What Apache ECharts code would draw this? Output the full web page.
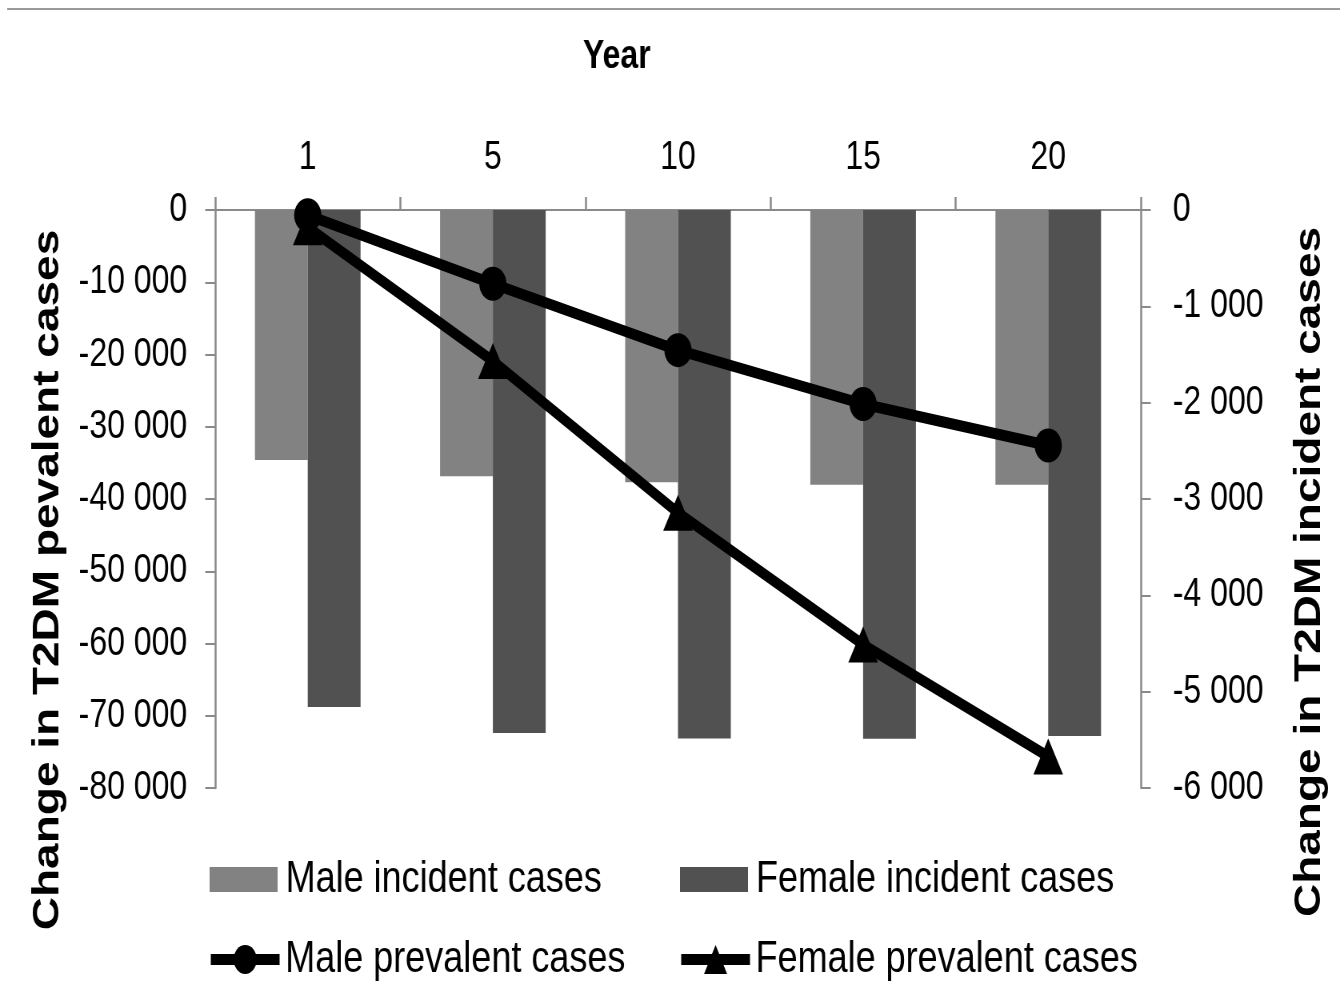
<!DOCTYPE html>
<html>
<head>
<meta charset="utf-8">
<script src="https://cdn.jsdelivr.net/npm/echarts@6/dist/echarts.min.js"></script>
<style>
html,body{margin:0;padding:0;background:#fff;overflow:hidden;width:1340px;height:983px;}
#chart{width:1675px;height:983px;transform:scaleX(0.8);transform-origin:0 0;}
</style>
</head>
<body>
<div id="chart"></div>
<script>
var years = ['1', '5', '10', '15', '20'];
var maleIncident = [-2595, -2765, -2827, -2851, -2851];
var femaleIncident = [-5160, -5430, -5485, -5490, -5460];
var malePrevalent = [-730, -10200, -19400, -26850, -32600];
var femalePrevalent = [-2400, -20900, -41900, -60150, -75650];
var leftTicks = {min: -80000, max: 0, interval: 10000};
var rightTicks = {min: -6000, max: 0, interval: 1000};

var FONT = "'Liberation Sans', Arial, sans-serif";
function fmt(v) { return String(v).replace(/\B(?=(\d{3})+(?!\d))/g, ' '); }

var axisGray = '#8a8a8a';
var chart = echarts.init(document.getElementById('chart'));
function legendFor(name, left, top, isBar) {
  var l = {
    data: [isBar ? {name: name, icon: 'rect'} : {name: name}],
    left: left, top: top, orient: 'horizontal', padding: 0,
    itemWidth: isBar ? 85 : 86, itemHeight: isBar ? 25 : 36,
    selectedMode: false,
    textStyle: {fontFamily: FONT, fontSize: 45, color: '#000', padding: [0, 0, 0, isBar ? 5 : 2]}
  };
  if (!isBar) { l.lineStyle = {width: 11, color: '#000'}; }
  return l;
}
chart.setOption({
  animation: false,
  backgroundColor: '#fff',
  grid: {left: 269, right: 249, top: 210, bottom: 195, containLabel: false},
  graphic: [
    {type: 'line', shape: {x1: 9, y1: 9, x2: 1675, y2: 9}, style: {stroke: '#9a9a9a', lineWidth: 2}},
    {type: 'text', x: 771, y: 57, style: {text: 'Year', font: 'bold 40px ' + FONT, fill: '#000', textAlign: 'center', textVerticalAlign: 'middle'}},
    {type: 'text', x: 60, y: 580, rotation: Math.PI / 2, style: {text: 'Change in T2DM pevalent cases', font: 'bold 46px ' + FONT, fill: '#000', textAlign: 'center', textVerticalAlign: 'middle'}},
    {type: 'text', x: 1637, y: 572, rotation: Math.PI / 2, style: {text: 'Change in T2DM incident cases', font: 'bold 46px ' + FONT, fill: '#000', textAlign: 'center', textVerticalAlign: 'middle'}}
  ],
  legend: [
    legendFor('Male incident cases', 262, 857, true),
    legendFor('Female incident cases', 850, 857, true),
    legendFor('Male prevalent cases', 258, 937, false),
    legendFor('Female prevalent cases', 846, 937, false)
  ],
  xAxis: {
    type: 'category', position: 'top', data: years,
    axisLine: {show: true, onZero: false, lineStyle: {color: axisGray, width: 2}},
    axisTick: {show: true, length: 13, lineStyle: {color: axisGray, width: 2.5}},
    axisLabel: {fontFamily: FONT, fontSize: 40, color: '#000', margin: 32},
    splitLine: {show: false}
  },
  yAxis: [
    {
      type: 'value', position: 'left', min: leftTicks.min, max: leftTicks.max, interval: leftTicks.interval,
      axisLine: {show: true, lineStyle: {color: axisGray, width: 2.5}},
      axisTick: {show: true, length: 12.5, lineStyle: {color: axisGray, width: 2}},
      axisLabel: {fontFamily: FONT, fontSize: 40, color: '#000', margin: 35, formatter: fmt},
      splitLine: {show: false}
    },
    {
      type: 'value', position: 'right', min: rightTicks.min, max: rightTicks.max, interval: rightTicks.interval,
      axisLine: {show: true, lineStyle: {color: axisGray, width: 2.5}},
      axisTick: {show: true, length: 12.5, lineStyle: {color: axisGray, width: 2}},
      axisLabel: {fontFamily: FONT, fontSize: 40, color: '#000', margin: 40, formatter: fmt},
      splitLine: {show: false}
    }
  ],
  series: [
    {name: 'Male incident cases', type: 'bar', yAxisIndex: 1, data: maleIncident, barWidth: 66, barGap: '0%', itemStyle: {color: '#828282'}},
    {name: 'Female incident cases', type: 'bar', yAxisIndex: 1, data: femaleIncident, barWidth: 66, barGap: '0%', itemStyle: {color: '#515151'}},
    {name: 'Male prevalent cases', type: 'line', yAxisIndex: 0, data: malePrevalent, symbol: 'circle', symbolSize: 34,
      lineStyle: {color: '#000', width: 11}, itemStyle: {color: '#000'}, z: 4},
    {name: 'Female prevalent cases', type: 'line', yAxisIndex: 0, data: femalePrevalent, symbol: 'triangle', symbolSize: [37, 36],
      lineStyle: {color: '#000', width: 11}, itemStyle: {color: '#000'}, z: 3}
  ]
});
</script>
</body>
</html>
